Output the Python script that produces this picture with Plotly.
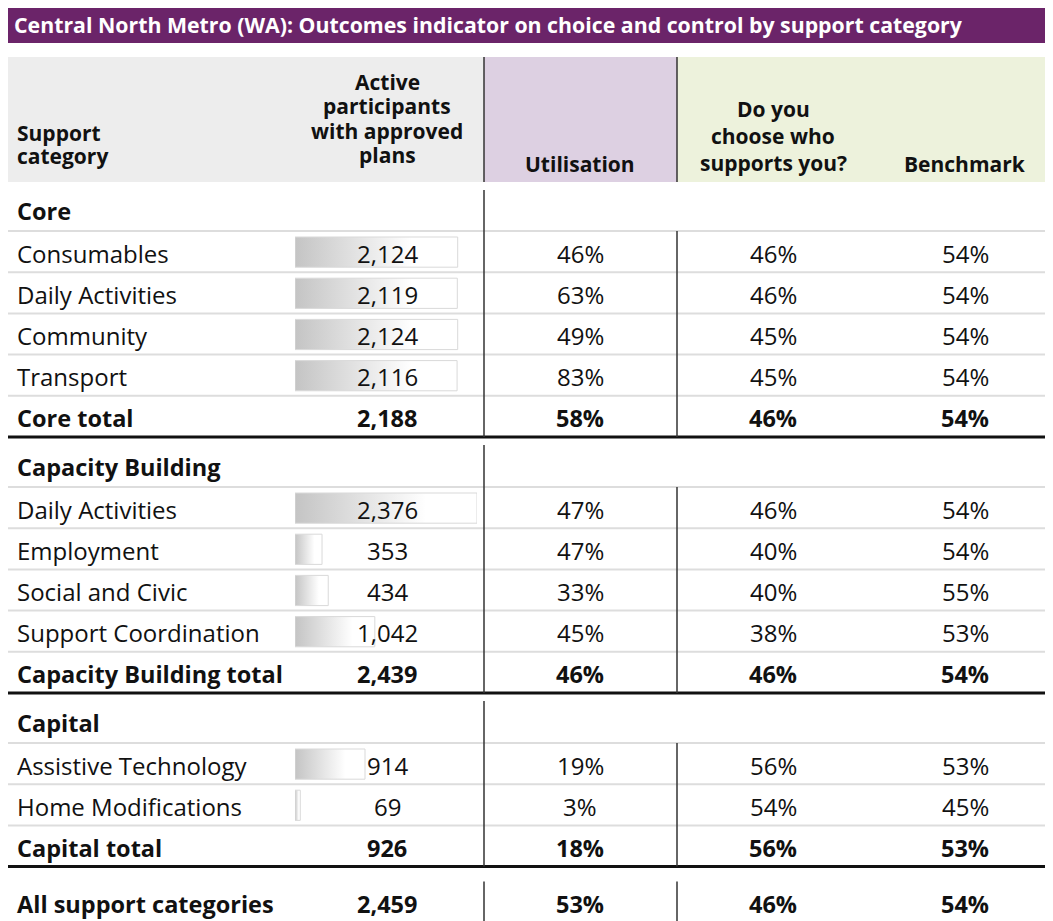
import plotly.graph_objects as go

# ---------------- data ----------------
title_text = "Central North Metro (WA): Outcomes indicator on choice and control by support category"

labels = ["Core", "Consumables", "Daily Activities", "Community", "Transport", "Core total",
          "Capacity Building", "Daily Activities", "Employment", "Social and Civic",
          "Support Coordination", "Capacity Building total",
          "Capital", "Assistive Technology", "Home Modifications", "Capital total",
          "All support categories"]
kinds = ["section", "item", "item", "item", "item", "total",
         "section", "item", "item", "item", "item", "total",
         "section", "item", "item", "total",
         "grand"]
participants = [None, 2124, 2119, 2124, 2116, 2188,
                None, 2376, 353, 434, 1042, 2439,
                None, 914, 69, 926,
                2459]
utilisation = [None, 46, 63, 49, 83, 58,
               None, 47, 47, 33, 45, 46,
               None, 19, 3, 18,
               53]
choose = [None, 46, 46, 45, 45, 46,
          None, 46, 40, 40, 38, 46,
          None, 56, 54, 56,
          46]
benchmark = [None, 54, 54, 54, 54, 54,
             None, 54, 54, 55, 53, 54,
             None, 53, 45, 53,
             54]

header_support = ["Support", "category"]
header_active = ["Active", "participants", "with approved", "plans"]
header_util = ["Utilisation"]
header_choose = ["Do you", "choose who", "supports you?"]
header_bench = ["Benchmark"]

# ---------------- style / layout constants ----------------
PAGE_W, PAGE_H = 1053, 921
OFF = 8                      # default page body margin
W, H = PAGE_W - OFF, PAGE_H - OFF
FONT = "Open Sans"
PURPLE = "#6b2469"
LEFT, RIGHT = 4, 1050
X_LABEL = 15
X_PART = 387
X_UTIL = 580
X_CHOOSE = 773
X_BENCH = 965
V1, V2 = 484, 677
BAR_X0, BAR_X1 = 295, 477
HEAD_TOP, HEAD_BOT = 57, 182
SEC_H, ITEM_H = 50, 41.2

fig = go.Figure()
shapes = []
annos = []

def line(x0, y0, x1, y1, color, width):
    shapes.append(dict(type="line", xref="x", yref="y", x0=x0, y0=y0, x1=x1, y1=y1,
                       line=dict(color=color, width=width), layer="above"))

def rect(x0, y0, x1, y1, color):
    shapes.append(dict(type="rect", xref="x", yref="y", x0=x0, y0=y0, x1=x1, y1=y1,
                       fillcolor=color, line=dict(width=0), layer="below"))

def text(x, y, s, size, bold=False, anchor="center", color="#111111"):
    annos.append(dict(x=x, y=y, xref="x", yref="y", text=f"<b>{s}</b>" if bold else s,
                      showarrow=False, xanchor=anchor, yanchor="middle",
                      font=dict(family=FONT, size=size, color=color)))

# title bar
rect(LEFT, 3, RIGHT, 43, PURPLE)
text(12, 24, title_text, 21.3, bold=True, anchor="left", color="#ffffff")

# header backgrounds
rect(LEFT, HEAD_TOP, V1, HEAD_BOT, "#ededed")
rect(V1, HEAD_TOP, V2, HEAD_BOT, "#ddd0e2")
rect(V2, HEAD_TOP, RIGHT, HEAD_BOT, "#edf2dc")
line(V1, HEAD_TOP, V1, HEAD_BOT, "#333333", 1.5)
line(V2, HEAD_TOP, V2, HEAD_BOT, "#333333", 1.5)

HS = 21
def header_lines(lines, x, last_center, spacing, anchor="center"):
    n = len(lines)
    for i, s in enumerate(lines):
        text(x, last_center - (n - 1 - i) * spacing, s, HS, bold=True, anchor=anchor)

header_lines(header_support, X_LABEL, 156, 23, anchor="left")
header_lines(header_active, X_PART, 155, 24.5)
header_lines(header_util, X_UTIL, 164, 25)
header_lines(header_choose, X_CHOOSE, 163, 27)
header_lines(header_bench, X_BENCH, 164, 25)

# ---------------- rows ----------------
y = HEAD_BOT
block_top = None
first_item_top = None
bar_y0, bar_y1, bar_v = [], [], []
for lab, kind, p, u, c, b in zip(labels, kinds, participants, utilisation, choose, benchmark):
    if kind == "section":
        block_top = y
        first_item_top = None
        top, bot = y, y + SEC_H - (1 if y == HEAD_BOT else 0)
        text(X_LABEL, bot - ITEM_H / 2 + 1, lab, 23.5, bold=True, anchor="left")
        line(LEFT, bot, RIGHT, bot, "#dddddd", 2)
        y = bot
        continue
    if kind == "grand":
        top = y + 15
        bot = PAGE_H
        cy = 904
        line(V1, top, V1, bot, "#333333", 1.5)
        line(V2, top, V2, bot, "#333333", 1.5)
    else:
        top, bot = y, y + ITEM_H
        cy = (top + bot) / 2 + 1.5
        if first_item_top is None:
            first_item_top = top
    bold = kind in ("total", "grand")
    fs = 23.5 if bold else 24
    text(X_LABEL, cy, lab, fs, bold=bold, anchor="left")
    text(X_PART, cy, f"{p:,}", fs, bold=bold)
    text(X_UTIL, cy, f"{u}%", fs, bold=bold)
    text(X_CHOOSE, cy, f"{c}%", fs, bold=bold)
    text(X_BENCH, cy, f"{b}%", fs, bold=bold)
    if kind == "item":
        bar_y0.append(top + 6)
        bar_y1.append(bot - 5)
        bar_v.append(p)
        line(LEFT, bot, RIGHT, bot, "#dddddd", 2)
    if kind == "total":
        line(LEFT, bot, RIGHT, bot, "#111111", 3)
        line(V1, block_top + 8, V1, bot, "#333333", 1.5)
        line(V2, first_item_top, V2, bot, "#333333", 1.5)
    y = bot

# gradient data bars (drawn on their own x axis scaled to the participant values)
for y0, y1, v in zip(bar_y0, bar_y1, bar_v):
    fig.add_trace(go.Scatter(
        x=[0, v, v, 0, 0], y=[y0, y0, y1, y1, y0],
        xaxis="x2", yaxis="y", mode="lines", fill="toself",
        fillgradient=dict(type="horizontal",
                          colorscale=[[0, "#c4c4c4"], [0.72, "#ffffff"], [1, "#ffffff"]]),
        line=dict(color="#d9d9d9", width=1),
        hoverinfo="skip", showlegend=False))

max_bar = max(bar_v)
fig.update_layout(
    width=W, height=H,
    margin=dict(l=0, r=0, t=0, b=0),
    paper_bgcolor="#ffffff", plot_bgcolor="rgba(0,0,0,0)",
    xaxis=dict(range=[OFF, PAGE_W], visible=False, fixedrange=True, domain=[0, 1]),
    xaxis2=dict(range=[0, max_bar], visible=False, fixedrange=True,
                domain=[(BAR_X0 - OFF) / W, (BAR_X1 - OFF) / W], anchor="y"),
    yaxis=dict(range=[PAGE_H, OFF], visible=False, fixedrange=True),
    shapes=shapes, annotations=annos,
    showlegend=False,
)
fig.write_html("out.html")
